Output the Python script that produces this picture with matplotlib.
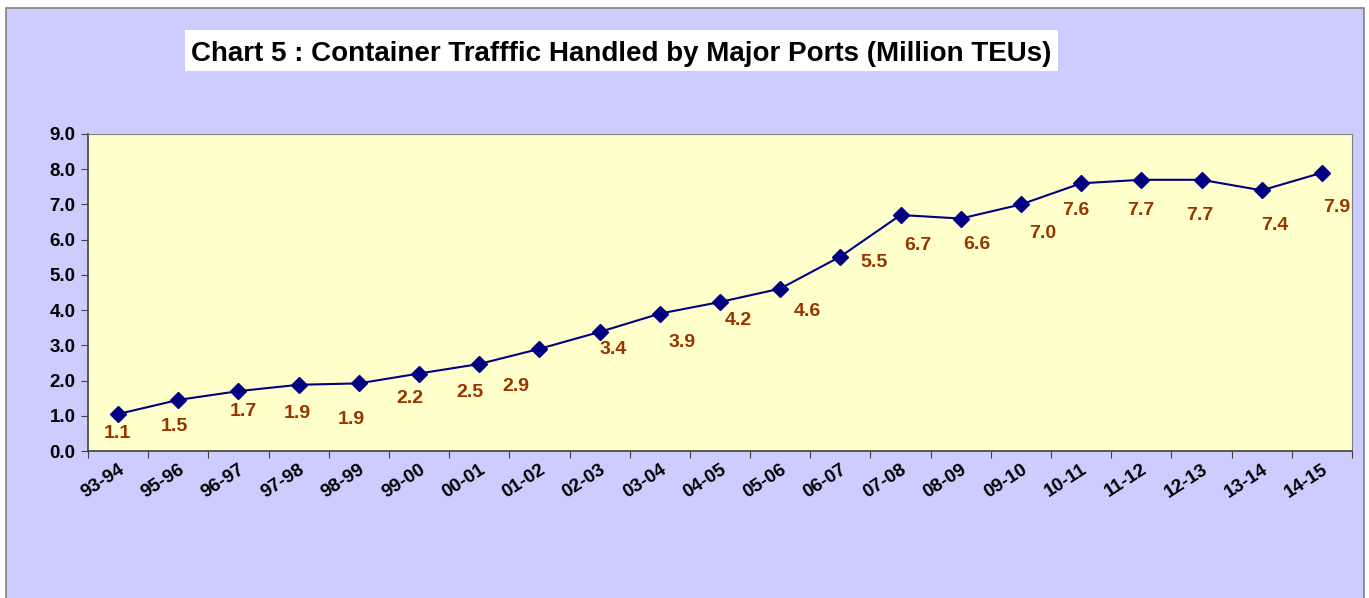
import matplotlib.pyplot as plt
from matplotlib.patches import Rectangle

years = ["93-94", "95-96", "96-97", "97-98", "98-99", "99-00", "00-01", "01-02",
         "02-03", "03-04", "04-05", "05-06", "06-07", "07-08", "08-09", "09-10",
         "10-11", "11-12", "12-13", "13-14", "14-15"]
traffic = [1.05, 1.45, 1.70, 1.88, 1.92, 2.20, 2.47, 2.90, 3.38, 3.90, 4.23,
           4.61, 5.52, 6.70, 6.60, 7.00, 7.60, 7.70, 7.70, 7.40, 7.90]
labels = ["1.1", "1.5", "1.7", "1.9", "1.9", "2.2", "2.5", "2.9", "3.4", "3.9", "4.2",
          "4.6", "5.5", "6.7", "6.6", "7.0", "7.6", "7.7", "7.7", "7.4", "7.9"]

# label offsets in pixels (dx right, dy down) relative to each point
label_dx = [-1, -4, 5, -1, -8, -9, -9, -24, 14, 22, 18, 27, 34, 17, 16, 22, -5, -1, -2, 13, 15]
label_dy = [19, 27, 20, 29, 36, 25, 28, 38, 18, 29, 18, 23, 6, 30, 26, 29, 27, 31, 36, 35, 35]

plt.rcParams['font.family'] = ['Liberation Sans', 'DejaVu Sans']

W, H = 1369, 598
fig = plt.figure(figsize=(W / 100, H / 100), dpi=100)
fig.patch.set_facecolor('white')
fig.patches.append(Rectangle((6 / W, -0.05), 1358 / W, 1.05 - 8 / H,
                             transform=fig.transFigure, facecolor='#CCCCFF',
                             edgecolor='#808080', linewidth=1.2, zorder=-10))
# white box behind the title
fig.patches.append(Rectangle((185 / W, 1 - 71 / H), (1058 - 185) / W, 41 / H,
                             transform=fig.transFigure, facecolor='white',
                             edgecolor='none', zorder=-5))

ax = fig.add_axes([88 / W, 1 - 451 / H, (1352 - 88) / W, (451 - 134) / H])
ax.set_zorder(1)
ax.set_facecolor('#FFFFCC')

x = list(range(len(years)))
ax.plot(x, traffic, color='#000080', linewidth=1.5, marker='D', markersize=8,
        markerfacecolor='#000080', markeredgecolor='#000080', zorder=3)

for i in x:
    ax.annotate(labels[i], (i, traffic[i]), xytext=(label_dx[i], -label_dy[i]),
                textcoords='offset pixels', ha='center', va='center',
                color='#993300', fontsize=14, fontweight='bold')

ax.set_xlim(-0.5, len(years) - 0.5)
ax.set_ylim(0, 9)
ax.set_yticks([i for i in range(10)])
ax.set_yticklabels(["%.1f" % v for v in range(10)], fontsize=13.5, fontweight='bold')
ax.set_xticks([i - 0.5 for i in range(len(years) + 1)])
ax.set_xticklabels([])
ax.set_xticks(x, minor=True)
ax.set_xticklabels(years, minor=True, rotation=33, ha='right', rotation_mode='anchor',
                   fontsize=13.5, fontweight='bold')
ax.tick_params(axis='x', which='minor', length=0, pad=7)
ax.tick_params(axis='x', which='major', length=5, color='#404040')
ax.tick_params(axis='y', length=5, color='#404040', pad=4)
for s in ['top', 'right']:
    ax.spines[s].set_color('#808080')
for s in ['left', 'bottom']:
    ax.spines[s].set_color('#404040')
    ax.spines[s].set_linewidth(1.2)

fig.text(621.5 / W, 1 - 61 / H,
         "Chart 5 : Container Trafffic Handled by Major Ports (Million TEUs)",
         ha='center', va='baseline', fontsize=20, fontweight='bold', color='black')

fig.savefig('out.png', dpi=100, facecolor=fig.get_facecolor())
